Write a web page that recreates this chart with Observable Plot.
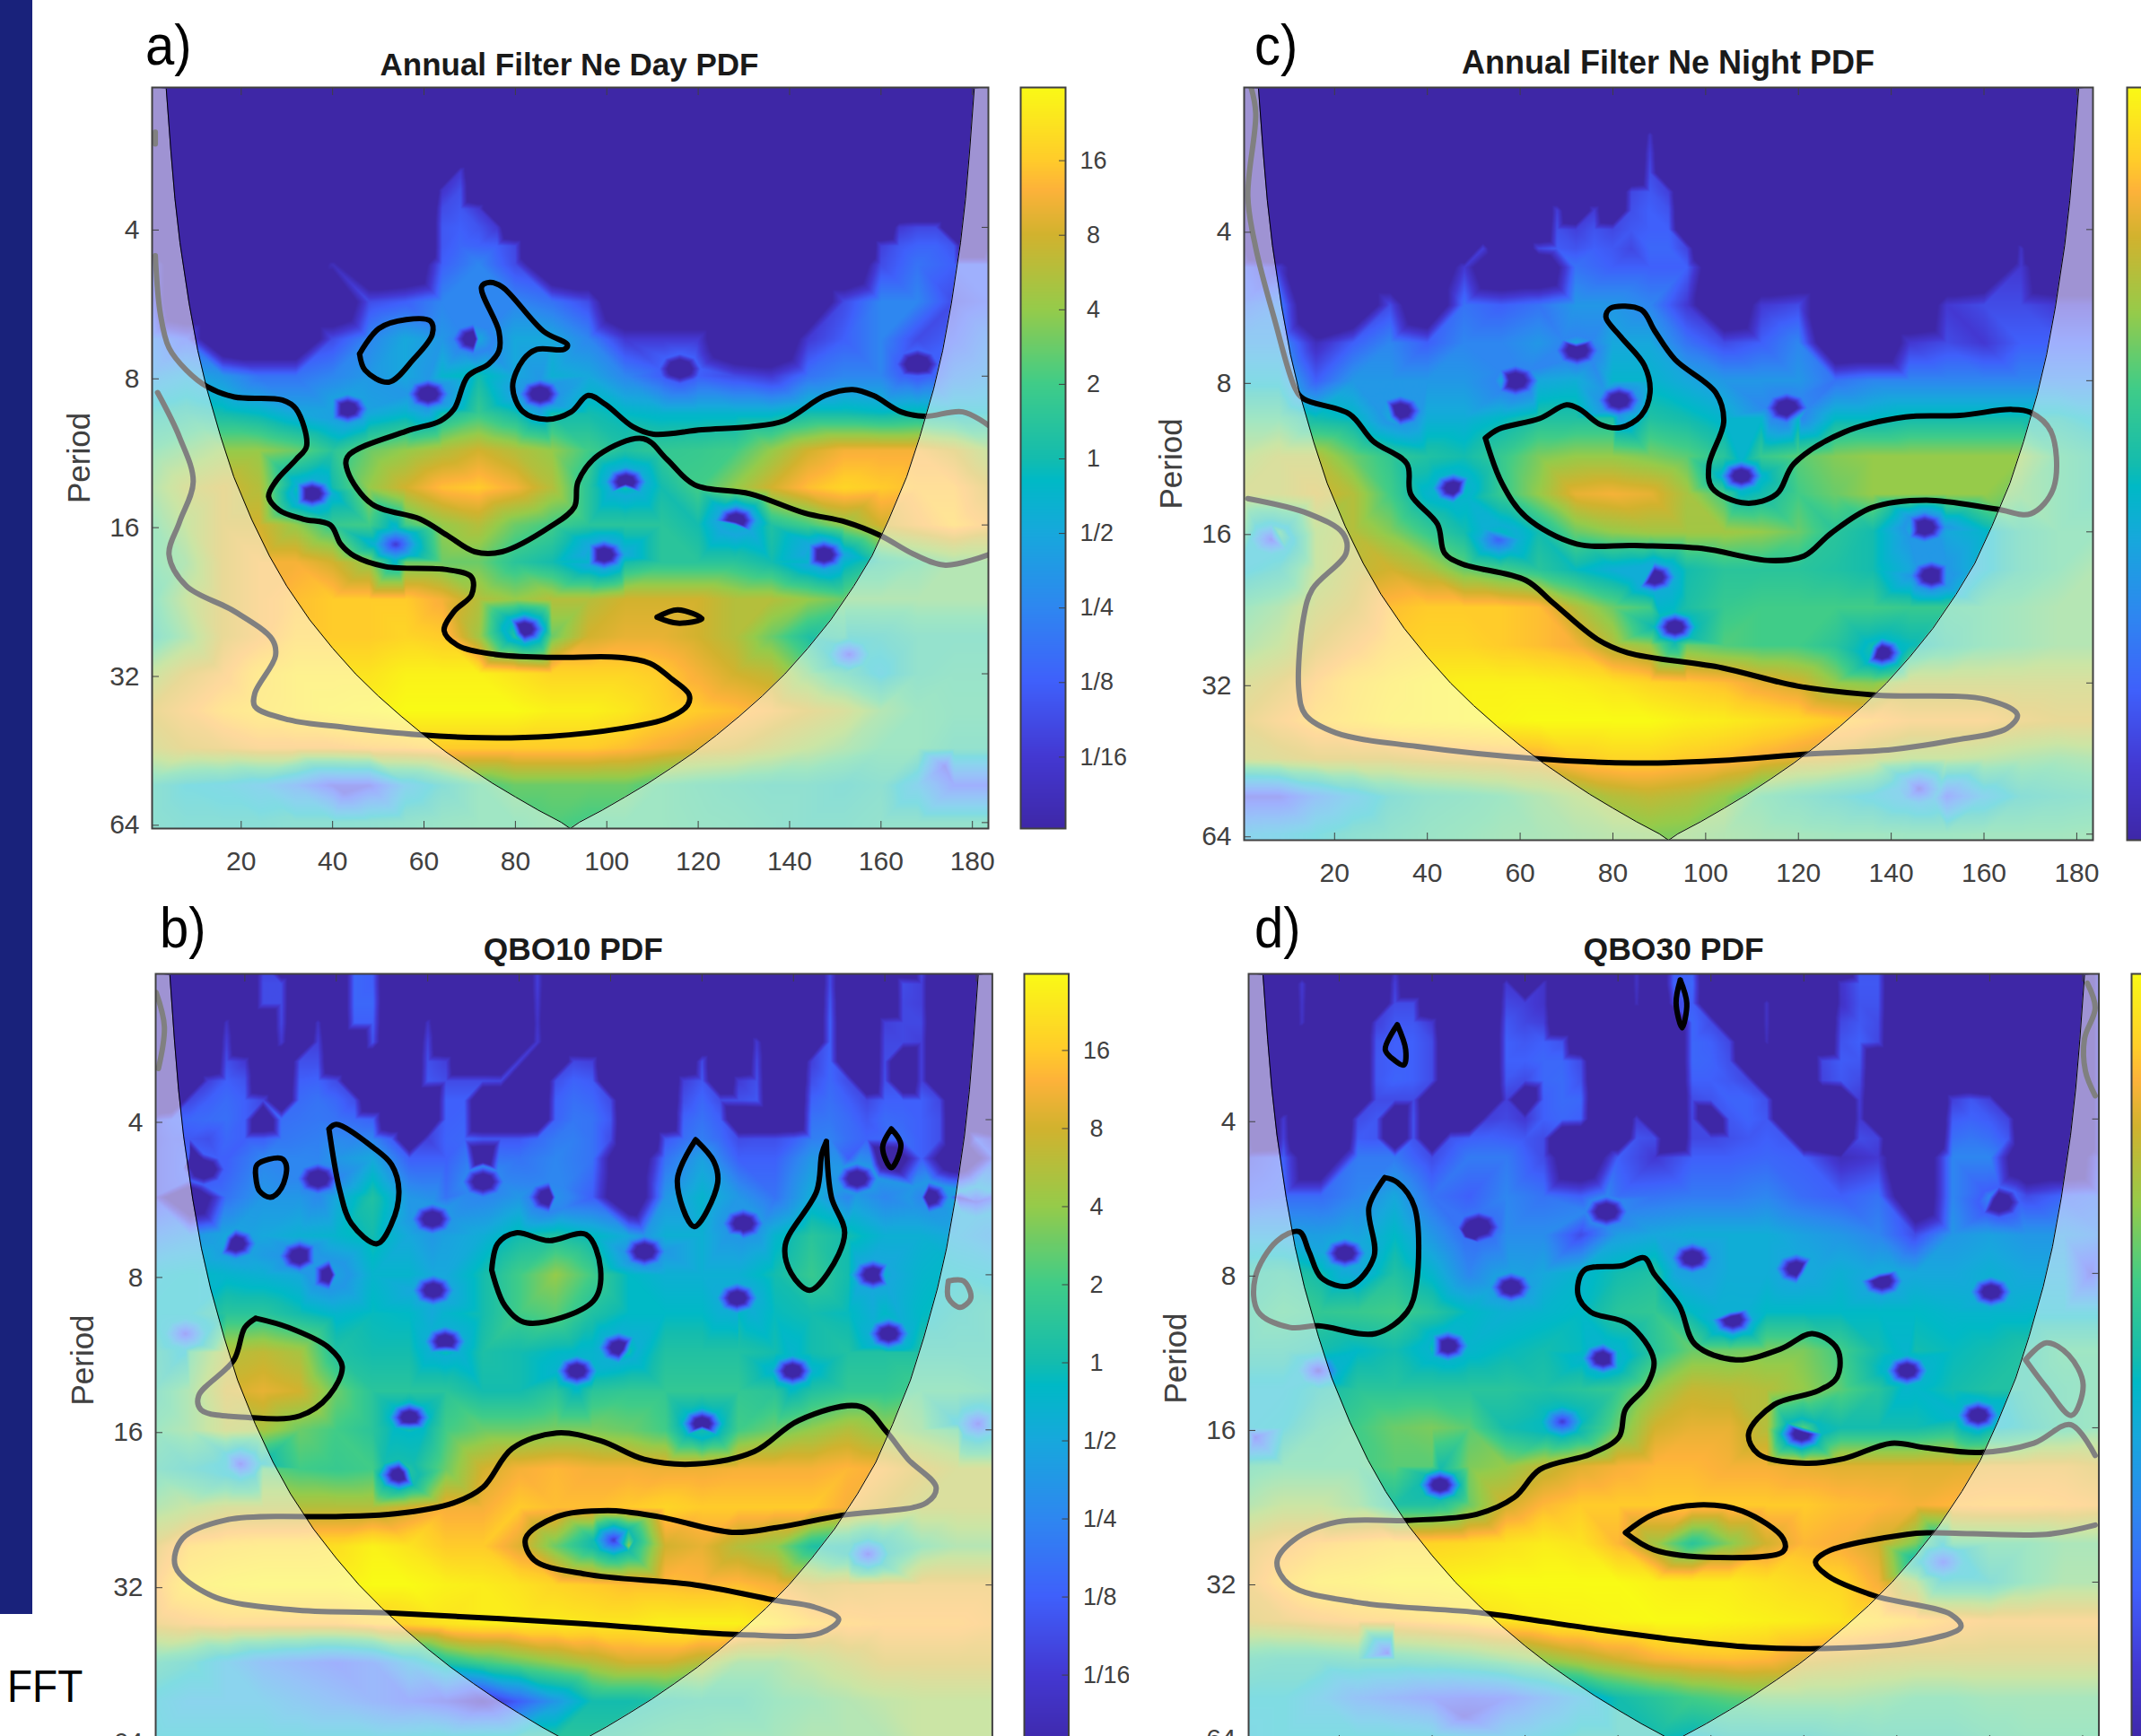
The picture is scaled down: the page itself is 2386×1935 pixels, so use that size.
<!DOCTYPE html>
<html><head><meta charset="utf-8">
<script src="https://cdn.jsdelivr.net/npm/d3@7"></script>
<script src="https://cdn.jsdelivr.net/npm/@observablehq/plot@0.6"></script>
<style>
html,body{margin:0;padding:0;background:#fff;width:2386px;height:1935px;overflow:hidden;font-family:"Liberation Sans",Arial,sans-serif}
#page{position:relative;width:2386px;height:1935px;overflow:hidden}
#page>*{position:absolute}
.t{font-weight:bold;font-size:35px;color:#1a1a1a;transform:translate(-50%,-50%);white-space:nowrap}
.l{font-size:58px;color:#000;transform:translateY(-50%) scaleY(1.08);white-space:nowrap}
</style></head><body><div id="page"></div>
<script>
// wavelet grid: columns are time, rows are log2(period); values are log2(power), -5 meaning off the bottom of the scale
const cols=[0,8,16,24,32,40,48,56,64,72,80,88,96,104,112,120,128,136,144,152,160,168,176,184];
const octaves=[2.25,2.5,2.75,3,3.25,3.5,3.75,4,4.25,4.5,4.75,5,5.25,5.5,5.75,6,6.25];
// finer grid for the narrow crests at short periods: everything there is off-scale dark except the listed crests
const fineCols=[0,4,8,12,16,20,24,28,32,36,40,44,48,52,56,60,64,68,72,76,80,84,88,92,96,100,104,108,112,116,120,124,128,132,136,140,144,148,152,156,160,164,168,172,176,180,184];
const fineOctaves=[1,1.125,1.25,1.375,1.5,1.625,1.75,1.875,2,2.125];
const xTicks=[20,40,60,80,100,120,140,160,180];
const yTicks=[4,8,16,32,64];
const barTicks=[-4,-3,-2,-1,0,1,2,3,4];
const barLabels=["1/16","1/8","1/4","1/2","\u00a01","\u00a02","\u00a04","\u00a08","16"];
const colorStops=[-5,-4,-3,-2,-1,-0.3,0,1,2,3,3.6,4,5];
const colorRange=["#3e27a6","#4338d2","#3f60fb","#2e87f0","#17a8dc","#00b9c6","#14bcae","#40cc88","#96cb4a","#d2b22e","#fdb23a","#ffcc2a","#f9fb15"];
const coneX=[3.6,4.6,5.5,6.6,8.6,10.5,12.5,15.5,18.4,22.3,26.2,30,35,40,45,50,55,60,65,70,75,80,85,90,92,94,99,104,109,114,119,124,129,134,139,144,149,154,158,161.7,165.6,168.5,171.5,173.5,175.4,177.4,178.5,179.4,180.4];
const coneP=[2.1,2.8,3.5,4.3,5.7,7.1,8.5,10.6,12.8,15.6,18.5,21.3,24.9,28.4,32,35.5,39,42.6,46.2,49.7,53.3,56.8,60.4,63.9,65.8,63.9,60.4,56.8,53.3,49.7,46.2,42.6,39,35.5,32,28.4,24.9,21.3,18.5,15.6,12.8,10.6,8.5,7.1,5.7,4.3,3.5,2.8,2.1];
const spotHalf=[[4.5,0],[-4.5,0],[0,0.1],[0,-0.1],[3.2,0.07],[-3.2,0.07],[3.2,-0.07],[-3.2,-0.07]];

const heatA=[
[-3,-5,-5,-5,-5,-4.5,-5,-5,-3,-2,-3.5,-5,-5,-5,-5,-5,-5,-5,-5,-5,-3.5,-2.5,-3,-3],
[-3,-5,-5,-5,-5,-5,-3.5,-3,-2,-2,-2,-2.5,-3.5,-5,-5,-5,-5,-5,-5,-3.5,-2,-2,-3.5,-3],
[-2,-3,-5,-5,-5,-3.5,-2,-1,-1.5,-1,-1,-1,-2,-4,-4,-4,-5,-5,-4,-3,-2,-3.5,-3,-2],
[-1.5,-1,-1.5,-2.5,-2.5,-2,-1.5,-1,-0.5,0,-1,-0.7,-1,-2,-3,-3,-3.5,-4,-2.5,-2,-2,-3,-2,-1.5],
[0,0.3,0,-0.3,-1,-1.2,-1,-0.5,0,0.8,0,0,0,-0.3,-0.5,-0.5,-0.5,-0.5,0,0,-0.2,0,-0.3,-0.3],
[1,1.5,2,2,1.5,0.5,1.5,2,2.5,3,2.5,2,1,0.3,0.7,0.8,1,2,3,3.5,3.5,3.5,3,2],
[1.5,2.5,3,2.5,0,0,2,3,3.8,4,3.5,2.5,0.5,0,0,1,2,3,3.8,4.2,4,3.8,3.8,3],
[1,2,3,3,2,0.8,1,1,2,2.5,1.5,1,0.5,0.5,0.5,0,-0.5,0.3,1,2,3,3.5,4,3.5],
[1,1.5,3,3.5,3.5,3,2,1.5,1.5,1.5,0.5,0,-0.5,0,0.5,0.5,0.5,0,-0.5,-0.5,0.5,1,1.5,1.5],
[0.7,2,3,3.5,3.8,4,4,4,3.5,2.5,2,2.5,2.5,3,3,3,2.5,2.5,2,1.5,1.5,1.5,1.5,1.5],
[0.3,1.5,3,3.5,4,4,4,4.2,4,2.2,0.3,1.5,3,3.3,3.3,3,2.5,1.5,0.3,0.5,0,0.5,0.5,0.5],
[2,3,3.5,4.2,4.5,4.5,4.5,4.8,4.8,4.8,4.5,4.2,4.2,4.2,4,3.5,3,2.7,1.5,0.5,-0.5,0.5,0.7,0.7],
[3,3.5,4,4.3,4.5,4.7,4.8,5,5,5,5,4.8,4.8,4.6,4.2,4,3.8,3.5,3,2.5,1.5,1,0.8,0.8],
[2.5,3,3.2,3.5,3.5,3.5,3.7,3.8,4,4,4,4,4,3.8,3.5,3.2,3,2.5,2,1.5,1,1,0.5,0.5],
[0.3,-0.3,-0.5,-1,-2,-3.5,-3.5,-1,0,1,1.5,1.5,1.5,1.5,1,0.7,0.5,0.3,0.3,0,0.3,-1,-3,-3],
[0.3,0,0,0,0.2,0.2,0.3,0.5,0.8,1,1,1.2,1,1,1,0.8,0.7,0.5,0.3,0.3,0.5,0.5,0.5,0.5],
[0.3,0,0,0,0.2,0.2,0.3,0.5,0.8,1,1,1.2,1,1,1,0.8,0.7,0.5,0.3,0.3,0.5,0.5,0.5,0.5]];
// spots: time, log2 period, value at the core, value around it (when read)
const spotsA=[[70.8,2.75,-5,-2],[60.9,3.12,-5,-1.5],[43.3,3.22,-5,-1.2],[85.4,3.12,-5,-1.5],[35.5,3.79,-5,-0.7],[104.2,3.71,-5,-0.8],[53.8,4.13,-4,-0.7],[99.4,4.2,-5,-1],[128.3,3.97,-5,-1],[147.5,4.2,-5,-1],[82,4.7,-5,-0.5],[153,4.87,-3.5,-0.2],[116,2.95,-5,-3],[168,2.92,-5,-3],[42.5,5.8,-3.7],[174,5.62,-3.5]];
// crests: log2 period, then time, value pairs
const crestsA=[
[1.625,[68,-4]],
[1.75,[64,-4.2,68,-3.4]],
[1.875,[64,-3.5,68,-3.2,72,-4]],
[2,[64,-3.2,68,-3,72,-3.3,76,-4,164,-4,168,-3.6,172,-3.6]],
[2.125,[64,-3.2,68,-2.8,72,-2.9,76,-3,80,-3.6,160,-3.8,164,-3.2,168,-2.9,172,-2.9,176,-3.3]]];

const heatC=[
[-3,-4,-5,-5,-5,-5,-4,-5,-5,-2.5,-3,-3,-3,-5,-5,-5,-5,-5,-5,-5,-5,-4,-5,-5],
[-2.5,-2,-5,-5,-3.5,-5,-2.5,-3,-2.5,-1.5,-1.5,-2,-4,-5,-4,-3.5,-5,-5,-5,-4,-3.5,-3.5,-4,-4],
[-1.5,-1.5,-4.5,-3,-2,-3,-2,-2,-1.5,-1,-1,-1,-2.5,-3.5,-3,-2,-5,-5,-4,-3.5,-4,-3,-3,-3],
[-0.5,-0.5,-3,-1.5,-1.5,-1.5,-1.5,-1,-1,-0.8,-0.5,-0.5,-1,-1.5,-1.5,-1.5,-2.5,-2,-2,-2,-2,-2,-2,-2],
[1,1,0,-0.3,-1,-0.8,-0.8,-0.3,0.3,0.3,0.3,0.3,0,-0.5,-0.5,-0.5,-0.3,-0.3,0,0,0,0,0,-0.5],
[2,2.5,2.5,1.5,0.7,0.3,0,0.8,1.7,2,2,1.7,1.3,0.5,0.8,1.3,1.8,2,2,2,2,2,1,0.5],
[2.5,2.5,3,2.5,1,-0.5,-0.3,0.8,2,3.3,3.5,3.3,2.3,1,0,1,1.5,2,2,2,2,1.5,1,0.5],
[1.5,1,2,2.5,1.8,0.8,0,-0.3,0,1.5,2,2.2,2.2,2.2,2,1.5,0.5,0,-1,-1,-0.5,0.5,1,1],
[-0.5,0,2,2.7,3,2.5,1.5,1,0.5,-0.2,-0.8,-0.8,0,0.5,0.5,0.5,0.3,0,-1,-1.5,-0.5,0.5,1,1.5],
[1,1.5,2.5,3,3.8,4,4,4,3.8,2.5,1.5,1,0.2,0.8,1,1,1,1,0.8,0.8,1,1.2,1.5,1.5],
[1.5,2,3,3.5,4,4.2,4.2,4,3.8,3.5,2.5,2,1.5,1.2,1,1,0.5,0,-0.2,0.5,1,1.2,1.5,1.5],
[2.5,3,3.7,4.2,4.5,4.7,4.8,4.8,4.8,4.7,4.5,4.2,4,3.8,3.3,3,2,1.8,2.5,2.5,2.5,2.5,2.5,2.5],
[3,3.5,4,4.3,4.6,4.7,4.8,4.9,5,5,5,5,4.8,4.7,4.5,4.3,4,3.8,3.5,3.5,3.5,3.2,3,3],
[2.5,2.7,3,3,3,3.2,3.3,3.4,3.5,4,4.2,4.2,4,3.8,3.5,3.2,3,2.5,2,2,1.8,1.5,1.3,1.5],
[-3.5,-3.5,-2,-1,0,0.5,0.7,1,1.5,2,2.5,2.7,2.5,2,1,0.5,0,-0.5,-2,-3,-1,0,0.3,0.5],
[-1,-0.8,-0.3,0.2,0.5,0.8,1,1.2,1.3,1.5,1.7,1.8,1.7,1.5,1.3,1.2,1.1,1.1,1,1,1.1,1.1,1.1,1.2],
[-1,-0.8,-0.3,0.2,0.5,0.8,1,1.2,1.3,1.5,1.7,1.8,1.7,1.5,1.3,1.2,1.1,1.1,1,1,1.1,1.1,1.1,1.2]];
const spotsC=[[72.3,2.8,-5,-2],[59,3,-5,-2],[81.3,3.13,-5,-1.5],[34.2,3.2,-5,-1.5],[117.5,3.18,-5,-2],[45.6,3.71,-5,-0.5],[107.7,3.63,-5,-0.5],[55.4,4.05,-3,-0.7],[147.2,3.97,-5,-1.5],[148.7,4.29,-5,-1.5],[89,4.3,-5,-0.8],[93.4,4.63,-5,-0.2],[138,4.8,-5,-0.3],[6.4,4.05,-3.5,-0.5],[146,5.7,-3.8,-1]];
const crestsC=[
[1.375,[88,-4.3]],
[1.5,[88,-3.8]],
[1.625,[88,-3.5]],
[1.75,[84,-3.6,88,-3.2,92,-3.8]],
[1.875,[68,-3.8,76,-3.9,84,-3.4,88,-3,92,-3.3]],
[2,[68,-3.4,72,-3.8,76,-3.3,80,-3.6,84,-3.2,88,-3,92,-3]],
[2.125,[52,-3.8,64,-3.6,68,-3.1,72,-3.3,76,-3,80,-3.2,84,-3.6,88,-2.8,92,-2.8,96,-3.7,168,-4.3]]];

const heatB=[
[-3.5,-5,-3,-2,-2,-1.5,-1,-3,-3,-5,-2.5,-2,-2.5,-5,-2.5,-1.2,-3,-3,-1.5,-3,-5,-3,-5,-3],
[-3.5,-5,-2.5,-1.5,-1.5,-1,0.3,-1.5,-2.5,-2,-1.5,-1.7,-3,-5,-1.5,-0.5,-1.5,-2.5,-0.8,-2,-2,-2,-4,-3],
[-2,-1.5,-1,-1,-0.7,-0.5,0,-1,-1.2,-0.8,0,0.3,-0.2,-1,-0.7,-0.7,-1.2,-0.5,0.5,0,-0.7,-0.7,-1,-1.5],
[-0.5,-0.3,-0.5,-0.7,-1,-1.2,-0.5,-0.5,-1,0,1,2,1,-0.3,-0.7,-0.7,-0.7,0,0.8,0,-0.7,-0.5,-0.3,-0.5],
[-0.3,-0.3,0.5,0.5,0,-0.5,-0.2,-0.3,-0.5,0,1,1.3,0.3,-0.3,-0.3,-0.3,-0.3,-0.2,0,-0.2,-0.3,-0.3,0,0.3],
[0.3,1,2.5,2.7,2.3,0.3,0,0,0,0.2,0,-0.3,-0.5,0,0.3,0.3,0.3,0,0,0.3,0.3,0.3,0.3,0.3],
[0.5,1.5,3,3.3,3,1.5,0.5,0.5,0.5,0,0,0.5,0.5,0.7,0.7,0.7,0.7,0.5,0.3,0.7,0.7,1,1,0.7],
[1,1.5,2.5,2.3,1.5,1,0.5,0,1,1.5,1.5,1.7,1.7,1.5,1,0,1,1.5,2,2.5,2,1.5,1,-0.3],
[0.5,0,-0.5,1.3,1,0.8,1,0.3,1.5,3,3.5,3.7,3.5,3.5,3.4,3.4,3.5,3.5,3.5,3.7,3.5,3,2.5,2.5],
[1.5,2,2.5,2.5,2.5,2.5,2.5,3,3.5,3.5,4,3.8,3.8,4,4.2,4,4,4,4,3.5,3,2.5,2.5,2.5],
[3,4,4.2,4.3,4.3,4.4,4.8,4.5,4,4,3.2,1.5,0,2,3,3.3,2.5,2,0.3,0,0,1,1.5,1.5],
[3.5,4.5,4.7,4.8,4.8,4.8,5,5,4.8,4.7,4.5,4.2,4,3.8,3.8,3.7,3.8,3.5,3,3.2,3.3,3.3,3.3,3.3],
[3.2,3.5,3.7,3.7,3.7,3.7,4,4.2,4.5,4.7,4.7,4.7,4.6,4.6,4.8,4.8,4.8,4.5,4,3.8,3.7,3.7,3.7,3.5],
[0.5,0,-1,-2,-2.5,-3,-2.5,-1,0.3,1,1.5,2,2.5,3,3,2.5,1.5,1.5,2,2.5,3,3,3,3],
[-0.5,-1,-1,-1,-1.5,-2,-2.5,-3,-3.5,-4.5,-3,-1.5,0,0,0.3,0.5,0.5,1,1.2,1.5,1.8,2,2,2],
[-0.3,-0.3,-0.3,-0.3,-0.3,-0.3,-0.3,-0.2,0,0.2,0.3,0.5,0.5,0.7,1,1,1.2,1.2,1.5,1.5,1.5,2,2,2],
[-0.3,-0.3,-0.3,-0.3,-0.3,-0.3,-0.3,-0.2,0,0.2,0.3,0.5,0.5,0.7,1,1,1.2,1.2,1.5,1.5,1.5,2,2,2]];
const spotsB=[[18,2.8,-5,-1.2],[32,2.88,-5,-1.5],[38.4,3,-5,-1.5],[61.2,3.1,-5,-1],[63.8,3.43,-5,-0.7],[36,2.38,-5,-2],[11,2.32,-5,-3],[72.1,2.4,-5,-2],[86.5,2.5,-5,-2],[61,2.64,-5,-1.5],[107.4,2.85,-5,-1.5],[129,2.67,-5,-1.5],[127.7,3.15,-5,-0.8],[153.9,2.38,-5,-1.5],[169.6,2.5,-5,-1.5],[157.4,3,-5,-1],[160.8,3.38,-5,-0.7],[101.8,3.47,-5,-0.7],[92.6,3.62,-5,-0.5],[139.8,3.62,-5,-0.5],[56,3.92,-5,-0.3],[120,3.96,-5,-0.3],[53.7,4.29,-5,0],[19,4.22,-3.5,-0.3],[100.7,4.71,-4,0],[156.3,4.8,-3.5,0],[180.4,3.96,-3.5,-0.5],[180,2.53,-3.5,-1],[7,3.38,-3.5,-0.5]];
const crestsB=[
[1,[24,-3.8,44,-2.8,48,-3,84,-3.8,148,-3.5,168,-3.5]],
[1.125,[24,-3.5,28,-3.5,44,-2.8,48,-3,84,-3.8,148,-3.5,164,-3.5,168,-3.8]],
[1.25,[24,-3.5,28,-3.5,44,-2.8,48,-2.8,84,-4,148,-3.2,164,-3.6,168,-3.8]],
[1.375,[16,-4.3,28,-3.6,36,-4.3,44,-3,48,-3,60,-4.3,84,-4.2,148,-3,160,-3.8,164,-3.6,168,-3.6]],
[1.5,[16,-3.8,28,-4,36,-3.8,48,-3.3,60,-3.7,84,-4,132,-4,148,-3,160,-3.6,164,-3.6,168,-3.8]],
[1.625,[16,-3.4,20,-4,32,-3.4,36,-3.4,60,-3.4,64,-3.8,80,-3.8,92,-3.6,96,-3.8,120,-3.5,132,-3.6,144,-3.8,148,-2.9,160,-3.5,168,-3.8]],
[1.75,[12,-3.8,16,-3,20,-3.3,32,-3,36,-2.9,40,-3.5,60,-3.2,64,-3.5,68,-3.5,72,-3.5,76,-3.6,88,-3.4,92,-2.9,96,-3.1,116,-3.8,120,-3.2,128,-3.9,132,-3.4,144,-3.4,148,-2.8,152,-3.5,160,-3.4,168,-3.8]],
[1.875,[8,-3.6,12,-3,16,-2.7,20,-3,24,-3.6,32,-2.7,36,-2.5,40,-2.8,44,-3.4,64,-3,68,-3,88,-3,92,-2.6,96,-2.8,100,-3.5,116,-3.4,120,-2.8,124,-3.5,128,-3.4,132,-3.2,144,-2.9,148,-2.6,152,-3,156,-3.6,160,-3,164,-3,168,-3,172,-3.6]],
[2,[4,-3,8,-2.8,12,-2.7,16,-2.6,20,-3,28,-2.6,32,-2.5,36,-2.4,40,-2.5,44,-2.7,48,-2.9,64,-3,68,-2.9,88,-2.9,92,-2.4,96,-2.5,100,-3.2,116,-2.9,120,-2.5,124,-3,144,-2.5,148,-2.4,152,-2.7,156,-3.2,160,-2.7,164,-2.8,168,-3,172,-3.4]],
[2.125,[4,-3.2,8,-3.2,12,-3.4,16,-2.8,20,-3,24,-3,28,-2.4,32,-2.3,36,-2.2,40,-1.9,44,-2,48,-2,52,-3,60,-3.8,64,-2.9,68,-2.8,72,-3.2,76,-3.2,80,-3.2,84,-2.7,88,-2.3,92,-2.2,96,-2.5,100,-3.5,112,-3.2,116,-2.6,120,-2.2,124,-2.7,128,-3.5,132,-3.4,136,-3.4,140,-3,144,-2.2,148,-2.1,152,-2.6,156,-2.9,160,-2.8,164,-2.6,168,-3,172,-3.4,180,-3]]];

const heatD=[
[-3.5,-3,-5,-2.3,-2.3,-3.5,-2.3,-2.3,-3.5,-5,-3,-4,-3,-3,-2.8,-3,-4.5,-4,-5,-2,-2,-5,-5,-3],
[-3,-2.7,-2.7,-2,-1,-2.5,-3,-2,-2.5,-3,-2.6,-2.5,-2.3,-2.3,-2,-2.7,-3,-2.5,-5,-2,-2,-3.5,-2.8,-2.5],
[-1.2,-1.2,-1.3,-1.2,-0.3,-1.5,-5,-1.8,-1.8,-3.5,-1.3,-1,-0.8,-0.8,-0.8,-1.2,-1.5,-2,-3.5,-1.5,-1.2,-1.5,-1.5,-2],
[0.3,0.5,0,-1,0.3,-0.5,-2,-1.2,-1,-0.5,0,0.3,-1,-0.8,-0.8,-1,-0.7,-1,-1,-1,-0.7,-1,-1,-2.5],
[0.5,1,0.7,0.8,1,0.5,-0.3,-0.7,-0.5,-0.3,0.5,0.7,-0.3,-0.7,-0.3,-0.3,-0.3,-0.3,-0.3,-0.5,-0.5,-0.5,-0.5,-0.5],
[0.3,0.3,0,-0.3,0,0,-0.5,-0.2,0,-0.2,-0.3,0.5,1.5,1.5,1.7,1.7,1,0,0,-0.2,0,0.3,1,1],
[-0.5,-0.5,0,0.5,0.5,0.5,0.5,0.5,0.3,0.5,0.8,2,2.8,2.7,2.5,2,1.3,0.5,-0.4,0,0.3,0.3,0.7,1],
[-0.5,-0.3,0.7,1,1.5,1.7,1.3,0,-0.2,0,1.5,3,3.3,3.3,2.5,1.3,0,0,0,0.3,-0.3,0,0.7,1],
[0.7,1,1,1,1.3,1.3,1.7,2,2.7,3.2,3.5,3.7,3.7,3.5,3.5,3.3,3.2,3.2,3.2,3.2,3.3,3.3,3.3,3],
[1.5,2,2,1.5,0.3,0.3,1.5,3,3.7,4,4,4,4,4,4,4,3.8,3.7,3.5,3.7,3.8,3.8,3.7,3.5],
[3,3.5,3.8,4,4.2,4.2,4.3,4.5,4.7,4.5,3.7,2.2,0.5,1.8,3,3.7,3.5,3,1.7,1,1,1,1.3,1.3],
[3.3,4,4.5,4.6,4.8,4.8,4.9,5,5,5,5,4.8,4.7,4.7,4.5,4.3,4.2,3.5,2,0,0,1,1.5,1.5],
[3,3.2,3.5,3.7,3.8,4,4.2,4.5,4.7,4.8,4.9,5,5,4.9,4.8,4.7,4.5,4.3,4,3.7,3.5,3.5,3.5,3.5],
[0.5,0.3,0.3,0.5,0.5,0.7,1,1.5,2,2.5,3,3.5,3.7,3.8,3.7,3.2,3,2.8,2.7,2.7,2.7,2.7,2.7,2.7],
[-0.3,-0.3,-1,-2,-2.5,-3,-3.2,-3,-2,-1,0,0.5,1,1.3,1.5,1.5,1.5,1.3,1,1,1.2,1.2,1.2,1.2],
[-0.5,-0.3,-0.3,-0.3,-0.3,-0.5,-1,-1,-0.5,0,0,0,-0.3,0,0,0,0.3,0.5,0.5,0.5,0.8,1,1,1],
[-0.5,-0.3,-0.3,-0.3,-0.3,-0.5,-1,-1,-0.5,0,0,0,-0.3,0,0,0,0.3,0.5,0.5,0.5,0.8,1,1,1]];
const spotsD=[[21.2,2.87,-5,-1],[50,2.7,-5,-2.5],[57,3.09,-5,-1.2],[77.5,2.6,-5,-2],[96,2.9,-5,-1.2],[104.7,3.3,-5,-0.7],[118.4,2.97,-5,-1],[136.8,3.05,-5,-1],[160.3,3.12,-5,-0.8],[43.4,3.47,-5,-0.5],[76.8,3.55,-5,-0.5],[15.5,3.63,-4,-0.5],[142.2,3.63,-5,-0.5],[68,3.96,-4,-0.2],[119.5,4.04,-5,-0.2],[157.5,3.92,-5,-0.5],[41.7,4.37,-5,0],[162,2.54,-5,-3],[150,4.87,-3,-0.5],[30.5,5.46,-3.5],[46.8,5.87,-3.8],[1.9,4.06,-3.5],[181.7,3,-3.5]];
const crestsD=[
[1,[32,-4.5,84,-4.3,92,-3.2,96,-3,132,-3.3,136,-3.3]],
[1.125,[12,-4,32,-3.8,56,-4,64,-4.2,84,-4.3,92,-3,96,-2.8,128,-4.2,132,-3.2,136,-3.2]],
[1.25,[12,-4.2,32,-3.5,36,-3.5,56,-3.6,60,-3.8,64,-4.2,84,-4.5,92,-3.8,96,-3,112,-4.3,128,-4.3,132,-3.3,136,-3.3]],
[1.375,[12,-4.3,28,-3.8,32,-3.2,36,-3.2,40,-4,56,-3.2,60,-3.6,64,-3.8,96,-2.8,100,-3.5,112,-4.3,128,-3.6,132,-3.2,136,-3.5]],
[1.5,[28,-3.3,32,-3,36,-3,40,-3.5,56,-3,60,-3.2,64,-3,68,-3.3,96,-2.8,100,-3,104,-3.6,112,-4.5,128,-3.3,132,-3,136,-3.6]],
[1.625,[28,-3.2,32,-3,36,-3,40,-3.5,56,-3,60,-3,64,-2.8,68,-2.8,72,-3.5,96,-2.8,100,-2.9,104,-3.4,124,-3.6,128,-3.1,132,-3.2]],
[1.75,[28,-3.2,32,-2.9,36,-3,40,-3.5,56,-3.2,60,-3.5,64,-2.8,68,-2.7,72,-3.3,96,-3,100,-3,104,-3.2,108,-3.6,124,-3.7,128,-3.2,132,-3.5]],
[1.875,[28,-3.5,32,-3.5,36,-3.5,56,-3.8,64,-3,68,-2.7,72,-2.8,96,-3.5,100,-3.3,104,-2.9,108,-2.9,112,-3.4,132,-3.9,152,-3.8,156,-3.2,160,-3.8]],
[2,[8,-4,24,-3.5,28,-3.2,36,-3.3,52,-3.8,56,-3.6,60,-4,64,-3,68,-2.8,72,-3,84,-4,96,-3.6,104,-3.2,108,-2.9,112,-3.2,132,-4,152,-3.1,156,-2.9,160,-3.1,164,-3.7]],
[2.125,[8,-3.8,24,-3.1,28,-3.2,36,-3.3,44,-3.3,48,-3,52,-2.9,56,-3,60,-3.2,64,-3.5,84,-3.3,88,-3.5,96,-3.6,100,-3.6,104,-3.4,108,-3.2,112,-3,116,-3.2,132,-3.5,136,-3.7,152,-2.6,156,-2.4,160,-2.6,164,-3.2]]];

// significance contours as [time, log2 period]
const openA=[
[[1.2,1.36],[1.2,1.44]],
[[1.2,2.19],[2.3,2.58],[4.2,2.81],[8,2.96],[12.5,3.07],[18.5,3.14],[29,3.16],[32,3.22],[34.3,3.47],[32,3.56],[27.5,3.71],[26,3.81],[28.3,3.9],[33.5,3.96],[39.5,4],[41.8,4.13],[44.8,4.21],[51.6,4.28],[65,4.3],[70.4,4.35],[70.4,4.47],[66.6,4.58],[64.4,4.71],[67.4,4.81],[75.6,4.87],[87.7,4.89],[102.7,4.89],[109.5,4.93],[114,5.03],[118,5.14],[117.7,5.21],[113.2,5.3],[102.7,5.37],[87.7,5.42],[72.6,5.43],[59,5.41],[42.6,5.36],[30.5,5.31],[23,5.22],[23,5.13],[27.5,4.88],[26.8,4.77],[18.5,4.58],[8,4.41],[4.2,4.2],[6.5,3.98],[9.5,3.71],[6.5,3.41],[1.7,3.11]],
[[183.5,3.33],[177.9,3.24],[169.6,3.27],[164.4,3.24],[158.3,3.13],[153.8,3.09],[147.8,3.13],[138.8,3.3],[131.3,3.34],[120.8,3.36],[110.2,3.39],[105.7,3.34],[99.7,3.19],[95.9,3.13],[92.2,3.24],[86.9,3.29],[81.7,3.24],[79.4,3.07],[81.7,2.89],[84.7,2.82],[90.7,2.82],[91.4,2.79],[86.2,2.7],[77.1,2.4],[74.4,2.37],[72.6,2.4],[76.4,2.7],[76.4,2.83],[74.1,2.92],[69.6,3],[66.6,3.22],[63.6,3.3],[56.1,3.37],[43.3,3.54],[43.3,3.64],[48.6,3.86],[59.1,3.96],[65.1,4.07],[71.1,4.18],[77.1,4.18],[87.7,4.01],[92.9,3.88],[93.7,3.71],[98.2,3.53],[108,3.42],[113.2,3.56],[119.2,3.73],[131.3,3.79],[143.3,3.92],[152.3,3.98],[159.8,4.07],[167.4,4.2],[174.1,4.27],[183.5,4.2]]];
const closedA=[
[[45.9,2.85],[50.1,2.68],[56.1,2.62],[61.4,2.63],[61.8,2.72],[57.6,2.89],[52.3,3.04],[47.1,2.96]],
[[111,4.62],[115.5,4.57],[120.8,4.63],[115.5,4.66]]];

const openC=[
[[2,1.06],[3,1.23],[1.3,1.78],[3,2.12],[7.1,2.6],[11.5,3.05],[13.3,3.12],[23.2,3.22],[28.3,3.4],[35.6,3.55],[36.4,3.75],[42.2,3.95],[43.7,4.14],[47.3,4.21],[61.2,4.32],[67.1,4.47],[76.6,4.71],[83.2,4.8],[103.6,4.9],[119.7,5.02],[136.5,5.08],[160.6,5.11],[167.2,5.21],[165,5.3],[153.3,5.38],[140.2,5.44],[121.9,5.47],[105.1,5.51],[84.6,5.53],[63,5.5],[37.8,5.42],[20.3,5.33],[13.7,5.21],[12.3,5.05],[13.3,4.57],[15.2,4.38],[22.5,4.14],[21.8,4.01],[14.4,3.88],[1.3,3.78]]];
const closedC=[
[[52.5,3.38],[55.4,3.32],[64.2,3.25],[70,3.16],[72.9,3.19],[77.3,3.29],[81.7,3.31],[86.1,3.23],[88,3.08],[86.8,2.9],[81.7,2.71],[78.5,2.58],[79.5,2.52],[86.1,2.53],[89,2.67],[93.4,2.86],[102.2,3.08],[103.9,3.27],[100.7,3.56],[101.4,3.71],[108.7,3.81],[115.3,3.75],[119,3.55],[129.9,3.34],[143.1,3.24],[154.8,3.23],[165.8,3.19],[170.1,3.21],[174.5,3.34],[175,3.71],[170.1,3.88],[162.8,3.85],[147.5,3.79],[135.8,3.84],[127,4.01],[121.2,4.16],[113.9,4.19],[99.2,4.11],[84.6,4.09],[72.2,4.08],[61.2,3.9],[56.1,3.68]]];

const openB=[[[0.6,1.18],[2.4,1.4],[1.1,1.67]]];
const closedB=[
[[22.4,2.37],[22.7,2.29],[28,2.25],[29.1,2.3],[28,2.44],[25.6,2.5],[23.2,2.46]],
[[38.4,2.06],[40,2.03],[48.1,2.18],[52.1,2.29],[53.7,2.46],[52.1,2.67],[48.9,2.8],[43.3,2.67],[40.8,2.46]],
[[74,2.97],[75.3,2.8],[79.3,2.73],[86.5,2.78],[94.6,2.74],[97.8,2.96],[96.2,3.17],[81.7,3.31],[76.9,3.2]],
[[118.6,2.13],[122.6,2.27],[123.4,2.41],[118.3,2.69],[114.6,2.39]],
[[147.2,2.14],[148.3,2.5],[151.2,2.73],[147.5,2.99],[143.5,3.1],[139.5,2.99],[138.2,2.81],[145.1,2.46],[146.2,2.22]],
[[161.4,2.06],[163.5,2.16],[161.4,2.31],[159.5,2.18]],
[[173.9,3.04],[177.2,3.04],[178.8,3.15],[176.4,3.21],[173.9,3.15]],
[[22.4,3.28],[29.6,3.34],[38.4,3.47],[41.3,3.59],[38.4,3.78],[32,3.91],[20.8,3.92],[10.4,3.87],[9.9,3.78],[17.6,3.55],[20,3.34]],
[[33.6,4.56],[52.9,4.54],[65.7,4.47],[72.1,4.37],[78.5,4.12],[88.2,4.02],[97.8,4.07],[107.4,4.19],[118.6,4.22],[131.4,4.14],[141.1,3.94],[154.7,3.85],[160.3,4.01],[165.1,4.19],[171.2,4.37],[169.1,4.47],[150.7,4.55],[136.3,4.63],[126.6,4.66],[110.6,4.56],[99.4,4.52],[88.2,4.56],[81.4,4.7],[83.3,4.84],[94.6,4.93],[118.6,5],[136.3,5.1],[144.3,5.14],[149.9,5.22],[145.9,5.31],[128.2,5.32],[94.6,5.25],[51.3,5.18],[30.4,5.16],[12.8,5.07],[4.8,4.88],[6.4,4.7],[16,4.58]]];

const openD=[
[[181,1.12],[182.7,1.28],[180.4,1.48],[180.6,1.69],[182.7,1.85]],
[[182.7,4.18],[177.4,3.98],[169.5,4.1],[157.9,4.16],[146.3,4.13],[138.8,4.1],[128.6,4.2],[120.4,4.23],[110.2,4.17],[108.1,4.04],[113.6,3.85],[123.1,3.76],[127.2,3.67],[127.2,3.49],[121.8,3.39],[115,3.49],[105.4,3.56],[96.6,3.46],[93.2,3.21],[87.7,3],[85.7,2.9],[80.9,2.95],[72.7,2.98],[71.4,3.14],[74.1,3.25],[82.3,3.33],[87.7,3.56],[86.3,3.72],[81.6,3.88],[80.2,4.06],[74.1,4.17],[63.2,4.27],[57.7,4.45],[49.6,4.56],[34.6,4.6],[19.6,4.61],[10.1,4.73],[6.6,4.87],[9.4,5.02],[23.7,5.13],[50.9,5.2],[74.1,5.3],[94.5,5.38],[108.1,5.42],[123.1,5.43],[143.6,5.39],[153.8,5.29],[151.7,5.21],[135.4,5.09],[125.2,4.96],[122.5,4.87],[125.2,4.8],[142.2,4.69],[147.7,4.68],[172.2,4.69],[182.7,4.63]]];
const closedD=[
[[32.5,1.39],[34.3,1.55],[33.9,1.65],[31.9,1.62],[29.9,1.55]],
[[93.4,1.1],[94.8,1.25],[93.8,1.41],[92.5,1.25]],
[[29.8,2.38],[26.4,2.57],[27.5,2.89],[22.3,3.08],[16.2,3.03],[13.5,2.86],[11.4,2.73],[6.6,2.79],[1.9,3.03],[2.6,3.25],[9.4,3.35],[15.5,3.34],[27.8,3.39],[34.6,3.25],[36.6,3.07],[36.2,2.57],[32.5,2.41]],
[[81.6,4.68],[87.7,4.56],[97.2,4.5],[106.8,4.54],[115.6,4.72],[115.6,4.8],[101.3,4.84],[87.7,4.79]],
[[167.7,3.56],[172.2,3.45],[177,3.53],[180.1,3.72],[177.6,3.92],[172.2,3.74]]];

const panels=[
 {title:"Annual Filter Ne Day PDF",tag:"a)",tagX:162,tagY:50,titleY:71.5,titleSize:35,box:[168.5,97,1100.5,923],bar:[1136.5,1186.5,97,923],clipTo:1262,labels:true,xLabels:true,edges:[-4.5,-4.5],heat:heatA,spots:spotsA,crests:crestsA,open:openA,closed:closedA},
 {title:"Annual Filter Ne Night PDF",tag:"c)",tagX:1398,tagY:50,titleY:70,titleSize:36,box:[1386,97,2332,936],bar:[2370,2420,97,936],clipTo:2440,labels:false,xLabels:true,edges:[-4.5,-4.5],heat:heatC,spots:spotsC,crests:crestsC,open:openC,closed:closedC},
 {title:"QBO10 PDF",tag:"b)",tagX:178,tagY:1034,titleY:1058,titleSize:35.3,box:[172.6,1085,1105,1946],bar:[1141,1190.5,1085,1950],clipTo:1258,labels:true,xLabels:false,edges:[-3.6,-4],heat:heatB,spots:spotsB,crests:crestsB,open:openB,closed:closedB},
 {title:"QBO30 PDF",tag:"d)",tagX:1398,tagY:1034,titleY:1058,titleSize:35.5,box:[1391.4,1085,2339,1942],bar:[2375,2425,1085,1942],clipTo:2440,labels:false,xLabels:false,edges:[-4,-3],heat:heatD,spots:spotsD,crests:crestsD,open:openD,closed:closedD}
];

const page=document.getElementById("page");
const colorOpt={type:"linear",domain:colorStops,range:colorRange,clamp:true};
const fontStyle={fontFamily:"'Liberation Sans',Arial,sans-serif",color:"#404040",background:"transparent",overflow:"hidden"};
const place=(node,left,top)=>{node.style.position="absolute";node.style.left=left+"px";node.style.top=top+"px";page.appendChild(node);};
const addText=(txt,cls,left,top)=>{const d=document.createElement("div");d.className=cls;d.textContent=txt;d.style.left=left+"px";d.style.top=top+"px";page.appendChild(d);return d;};
const deep=v=>v<=-5?-8:v; // off-scale values sit well below the clamp so their edges stay crisp

const bar=document.createElement("div");bar.style.cssText="left:0;top:0;width:36px;height:1799px;background:#19227b";page.appendChild(bar);
addText("FFT","l",8,1880).style.fontSize="46px";

for(const p of panels){
  const [x0,y0,x1,y1]=p.box;
  const mL=120,mR=12,mT=12,mB=60;
  const pts=[];
  octaves.forEach((o,i)=>cols.forEach((x,j)=>pts.push({x,p:2**o,v:deep(p.heat[i][j])})));
  fineOctaves.forEach(o=>{
    const row=p.crests.find(c=>c[0]===o);
    const pairs=row?row[1]:[];
    fineCols.forEach(x=>{
      const k=pairs.findIndex((d,i)=>i%2===0&&d===x);
      const v=k>=0?pairs[k+1]:(x===0?p.edges[0]:x===184?p.edges[1]:-8);
      pts.push({x,p:2**o,v});
    });
  });
  p.spots.forEach(([x,o,v,h])=>{
    pts.push({x,p:2**o,v:deep(v)});
    if(h!==undefined) spotHalf.forEach(([dx,dy])=>pts.push({x:x+dx,p:2**(o+dy),v:h}));
  });
  const topP=2**1.06,botP=2**6.04;
  const cone=coneX.map((x,i)=>({x,p:coneP[i]}));
  const mask=[{x:0.5,p:topP},...cone,{x:183.5,p:topP}];
  const lines=[...p.open,...p.closed.map(c=>[...c,c[0]])];
  const fig=Plot.plot({
    width:x1-x0+mL+mR,height:y1-y0+mT+mB,marginLeft:mL,marginRight:mR,marginTop:mT,marginBottom:mB,
    style:{...fontStyle,fontSize:"30px"},
    x:{domain:[0.5,183.5]},
    y:{type:"log",base:2,domain:[topP,botP],reverse:true},
    color:colorOpt,
    marks:[
      Plot.raster(pts,{x:"x",y:"p",fill:"v",interpolate:"barycentric"}),
      ...lines.map(l=>Plot.line(l,{x:d=>d[0],y:d=>2**d[1],stroke:"#000",strokeWidth:6,curve:"catmull-rom",clip:true})),
      Plot.areaY(mask,{x:"x",y1:"p",y2:botP,fill:"#fff",fillOpacity:0.5}),
      Plot.line(cone,{x:"x",y:"p",stroke:"#000",strokeWidth:1}),
      Plot.frame({stroke:"#404040",strokeWidth:2}),
      Plot.axisX({anchor:"bottom",ticks:xTicks,tickSize:-8,tickPadding:33,label:null,stroke:"#404040",...(p.xLabels?{}:{tickFormat:()=>""})}),
      Plot.axisX({anchor:"top",ticks:xTicks,tickSize:-8,tickFormat:()=>"",label:null,stroke:"#404040"}),
      Plot.axisY({anchor:"left",ticks:yTicks,tickFormat:d=>String(d),tickSize:-8,tickPadding:22,dy:3,label:null,stroke:"#404040"}),
      Plot.axisY({anchor:"right",ticks:yTicks,tickSize:-8,tickFormat:()=>"",label:null,stroke:"#404040"}),
      Plot.text(["Period"],{frameAnchor:"left",rotate:-90,dx:-81,textAnchor:"middle",fontSize:35,fill:"#404040"})
    ]
  });
  place(fig,x0-mL,y0-mT);

  const [bx0,bx1,by0,by1]=p.bar;
  const bR=Math.min(72,p.clipTo-bx1);
  const cb=Plot.plot({
    width:bx1-bx0+4+bR,height:by1-by0+8,marginLeft:4,marginRight:bR,marginTop:4,marginBottom:4,
    style:{...fontStyle,fontSize:"27px"},
    x:{domain:[0,1],axis:null},
    y:{domain:[-4.97,4.97]},
    color:colorOpt,
    marks:[
      Plot.raster({x1:0,x2:1,y1:-4.97,y2:4.97,fill:(x,y)=>y}),
      Plot.frame({stroke:"#404040",strokeWidth:2}),
      Plot.axisY({anchor:"right",ticks:barTicks,tickFormat:p.labels?(d=>barLabels[barTicks.indexOf(d)]):(()=>""),tickSize:-8,tickPadding:24,dy:1,textAnchor:"start",label:null,stroke:"#404040"})
    ]
  });
  place(cb,bx0-4,by0-4);

  addText(p.title,"t",(x0+x1)/2,p.titleY).style.fontSize=p.titleSize+"px";
  addText(p.tag,"l",p.tagX,p.tagY);
}
</script></body></html>
